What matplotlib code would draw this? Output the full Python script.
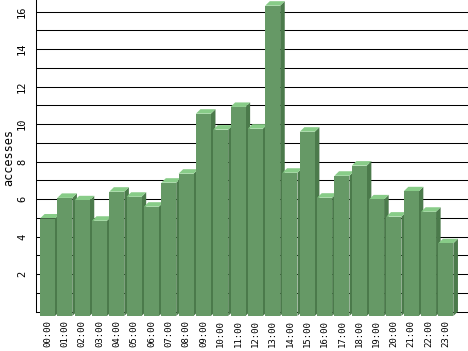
import matplotlib
matplotlib.use("Agg")
import matplotlib.pyplot as plt
from matplotlib.patches import Polygon, Rectangle
import numpy as np

hours = ["%02d:00" % h for h in range(24)]
accesses = [5.2, 6.3, 6.17, 5.08, 6.63, 6.36, 5.83, 7.11, 7.59, 10.79, 9.94, 11.15,
            9.99, 16.55, 7.64, 9.83, 6.31, 7.48, 8.02, 6.22, 5.3, 6.65, 5.56, 3.88]
ytick_labels = [str(v) for v in range(2, 17, 2)]
ylabel = "accesses"

FRONT = "#669966"
TOP = "#88cc88"
SIDE = "#4b7a4b"

W, H = 468, 351
fig = plt.figure(figsize=(W / 100, H / 100), dpi=100)
left_px, bottom_px = 35.5, 316.0
ax = fig.add_axes([left_px / W, 1 - bottom_px / H, 1 - left_px / W, bottom_px / H])

slot_px = 17.32
unit_px = 18.75
dx = 4.6 / slot_px      # depth in x data units
dy = 4.5 / unit_px      # depth in y data units
xmin = -(47.5 - left_px) / slot_px
xmax = xmin + (W - left_px) / slot_px
ymin = -dy
ymax = ymin + bottom_px / unit_px
ax.set_xlim(xmin, xmax)
ax.set_ylim(ymin, ymax)

# back-plane gridlines
for k in range(0, 17):
    ax.axhline(k, color="black", lw=0.75, zorder=1)

hw = 0.433
x = np.arange(len(hours))
for i, v in enumerate(accesses):
    x0, x1 = x[i] - hw, x[i] + hw
    yb, yt = ymin, ymin + v
    ax.add_patch(Polygon([[x1, yb], [x1 + dx, yb + dy], [x1 + dx, yt + dy], [x1, yt]],
                         closed=True, facecolor=SIDE, edgecolor="none", zorder=2 + 2 * i))
    ax.add_patch(Polygon([[x0, yt], [x1, yt], [x1 + dx, yt + dy], [x0 + dx, yt + dy]],
                         closed=True, facecolor=TOP, edgecolor="none", zorder=2 + 2 * i))
    ax.add_patch(Rectangle((x0, yb), x1 - x0, v, facecolor=FRONT, edgecolor="none",
                           zorder=3 + 2 * i))

for s in ["top", "right", "bottom"]:
    ax.spines[s].set_visible(False)
ax.spines["left"].set_bounds(0, ymax)
ax.spines["left"].set_linewidth(0.75)

ax.set_yticks(range(2, 17, 2))
ax.set_yticklabels(ytick_labels, rotation=90, va="center", family="DejaVu Sans Mono", fontsize=7.5)
ax.tick_params(axis="y", length=0, pad=6)
ax.set_xticks(x)
ax.set_xticklabels(hours, rotation=90, family="DejaVu Sans Mono", fontsize=6.5)
ax.tick_params(axis="x", length=0, pad=3)
ax.set_ylabel(ylabel, family="DejaVu Sans Mono", fontsize=8.5)
ax.yaxis.label.set_verticalalignment("center")
ax.yaxis.set_label_coords((8.5 - left_px) / (W - left_px), 0.5)

fig.savefig("out.png", dpi=100)
